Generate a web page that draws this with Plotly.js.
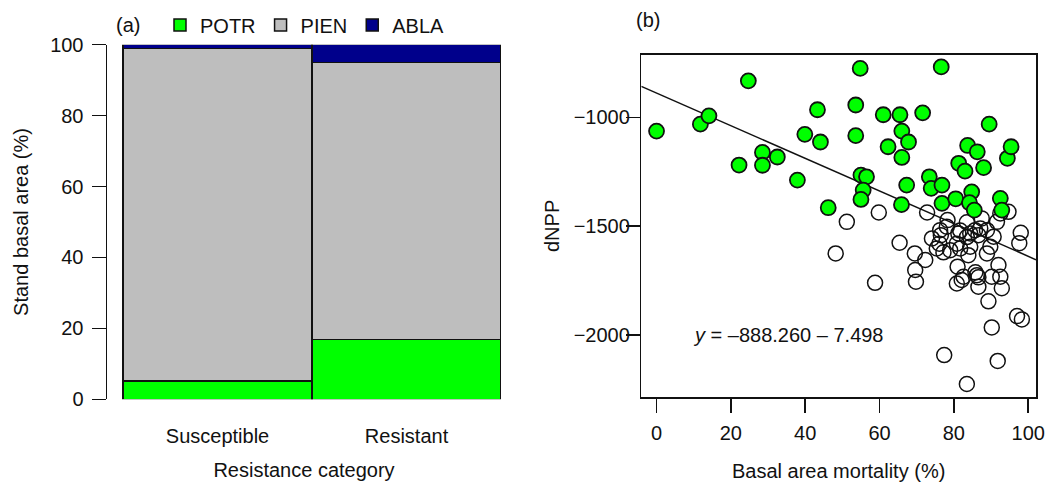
<!DOCTYPE html>
<html>
<head>
<meta charset="utf-8">
<script src="https://cdn.plot.ly/plotly-3.0.1.min.js"></script>
<style>html,body{margin:0;padding:0;background:#fff;}#chart{width:1045px;height:483px;}</style>
</head>
<body>
<div id="chart"></div>
<script>
// ---- Panel (a) data ----
const categories = ['Susceptible', 'Resistant'];
const potr = [5.2, 16.9];
const pien = [93.8, 78.1];
const abla = [1.0, 5.0];
const yTicksA = [0, 20, 40, 60, 80, 100];

// ---- Panel (b) data ----
const greenX = [0, 24.7, 11.8, 14.1, 22.2, 28.5, 28.5, 32.5, 37.9, 39.9, 43.3, 44.1, 46.2, 54.8, 53.6, 53.6, 55.0, 56.5, 55.6, 55.0, 61.0, 65.5, 66.0, 67.8, 62.3, 66.0, 71.6, 76.6, 67.3, 65.9, 73.4, 73.9, 76.8, 76.8, 80.5, 81.3, 83.0, 83.7, 86.3, 88.0, 89.5, 84.8, 84.2, 85.5, 92.5, 92.9, 94.4, 95.4];
const greenY = [-1063, -832, -1031, -993, -1219, -1161, -1220, -1182, -1288, -1078, -965, -1113, -1415, -775, -943, -1084, -1265, -1273, -1334, -1377, -988, -988, -1063, -1113, -1135, -1184, -979, -768, -1311, -1401, -1273, -1326, -1311, -1395, -1374, -1211, -1247, -1129, -1158, -1231, -1031, -1342, -1392, -1426, -1372, -1426, -1188, -1135];
const openX = [48.2, 51.2, 59.8, 58.8, 65.4, 69.5, 72.3, 69.6, 69.8, 72.8, 77.4, 83.5, 91.8, 90.2, 89.3, 97.0, 98.3, 98.0, 97.6, 77.2, 81.0, 80.8, 83.9, 85.8, 86.2, 86.6, 86.6, 82.6, 90.2, 92.0, 92.5, 92.9, 88.9, 78.3, 74.1, 76.5, 76.3, 76.1, 80.8, 81.7, 83.5, 85.7, 86.6, 88.9, 90.7, 91.6, 92.5, 94.7, 83.5, 87.5, 75.4, 79.0, 81.7, 84.4, 89.8, 87.1, 78.1, 81.2, 84.4, 82.1];
const openY = [-1625, -1480, -1437, -1760, -1576, -1625, -1655, -1701, -1755, -1437, -2092, -2225, -2119, -1965, -1845, -1913, -1928, -1530, -1578, -1620, -1686, -1763, -1633, -1712, -1725, -1735, -1778, -1732, -1732, -1678, -1732, -1785, -1625, -1472, -1556, -1541, -1518, -1580, -1580, -1520, -1482, -1518, -1541, -1518, -1548, -1480, -1441, -1434, -1550, -1464, -1602, -1610, -1602, -1594, -1594, -1510, -1502, -1533, -1533, -1747];
const xTicksB = [0, 20, 40, 60, 80, 100];
const yTicksB = [-2000, -1500, -1000];
const intercept = -888.260;
const slope = -7.498;

const W = 1045, H = 483;
const xRangeB = [-4.1, 102.1];
const yRangeB = [-2286, -712];
const font = {family: 'Liberation Sans, Arial, sans-serif', size: 20, color: '#111'};
const edge = {color: '#111', width: 1.5};

const traces = [
  {type: 'bar', name: 'POTR', x: categories, y: potr, marker: {color: '#00FF00', line: edge}, width: 1, xaxis: 'x', yaxis: 'y', hoverinfo: 'skip'},
  {type: 'bar', name: 'PIEN', x: categories, y: pien, marker: {color: '#BEBEBE', line: edge}, width: 1, xaxis: 'x', yaxis: 'y', hoverinfo: 'skip'},
  {type: 'bar', name: 'ABLA', x: categories, y: abla, marker: {color: '#00008B', line: edge}, width: 1, xaxis: 'x', yaxis: 'y', hoverinfo: 'skip'},
  {type: 'scatter', mode: 'lines', x: xRangeB, y: xRangeB.map(v => intercept + slope * v), line: {color: '#111', width: 1.5}, xaxis: 'x2', yaxis: 'y2', showlegend: false, hoverinfo: 'skip'},
  {type: 'scatter', mode: 'markers', x: openX, y: openY, marker: {symbol: 'circle-open', size: 15, color: '#111', line: {width: 1.5}}, xaxis: 'x2', yaxis: 'y2', showlegend: false},
  {type: 'scatter', mode: 'markers', x: greenX, y: greenY, marker: {symbol: 'circle', size: 15, color: '#00FF00', line: {color: '#111', width: 1.8}}, xaxis: 'x2', yaxis: 'y2', showlegend: false}
];

const layout = {
  width: W, height: H,
  margin: {l: 0, r: 0, t: 0, b: 0},
  paper_bgcolor: '#fff', plot_bgcolor: '#fff',
  font: font,
  barmode: 'stack',
  bargap: 0,
  showlegend: true,
  legend: {orientation: 'h', x: 160 / W, xanchor: 'left', y: (H - 25) / H, yanchor: 'middle', font: font, itemwidth: 30, itemgap: 0, traceorder: 'normal', bgcolor: 'rgba(0,0,0,0)'},
  xaxis: {domain: [107 / W, 501 / W], range: [-0.585, 1.5], type: 'category', showline: false, ticks: '', showgrid: false, zeroline: false,
    ticklabelstandoff: 23, fixedrange: true,
    title: {text: 'Resistance category', font: font, standoff: 16}},
  yaxis: {domain: [(H - 399.3) / H, (H - 44.7) / H], range: [0, 100], tickvals: yTicksA, showline: true, linecolor: '#111', linewidth: 1.5,
    ticks: 'outside', ticklen: 14, tickwidth: 1.5, tickcolor: '#111', showgrid: false, zeroline: false, ticklabelstandoff: 4,
    title: {text: 'Stand basal area (%)', font: font, standoff: 16}},
  xaxis2: {domain: [641.3 / W, 1036 / W], range: xRangeB, tickvals: xTicksB, showline: true, mirror: true, linecolor: '#111', linewidth: 1.5,
    ticks: 'outside', ticklen: 14, tickwidth: 1.5, tickcolor: '#111', showgrid: false, zeroline: false, ticklabelstandoff: 3, anchor: 'y2',
    title: {text: 'Basal area mortality (%)', font: font, standoff: 21}},
  yaxis2: {domain: [(H - 397.3) / H, (H - 54.7) / H], range: yRangeB, tickvals: yTicksB, showline: true, mirror: true, linecolor: '#111', linewidth: 1.5,
    ticks: 'outside', ticklen: 14, tickwidth: 1.5, tickcolor: '#111', showgrid: false, zeroline: false, ticklabelstandoff: -8, anchor: 'x2'},
  annotations: [
    {text: '(a)', xref: 'paper', yref: 'paper', x: 128 / W, y: (H - 25) / H, xanchor: 'center', yanchor: 'middle', showarrow: false, font: font},
    {text: '(b)', xref: 'paper', yref: 'paper', x: 648 / W, y: (H - 20) / H, xanchor: 'center', yanchor: 'middle', showarrow: false, font: font},
    {text: 'dNPP', xref: 'paper', yref: 'paper', x: 552 / W, y: (H - 226) / H, xanchor: 'center', yanchor: 'middle', textangle: -90, showarrow: false, font: font},
    {text: '<i>y</i> = \u2013888.260 \u2013 7.498', xref: 'x2', yref: 'y2', x: 9.4, y: -2000, xanchor: 'left', yanchor: 'middle', showarrow: false, font: font}
  ]
};

Plotly.newPlot('chart', traces, layout, {staticPlot: true, displayModeBar: false});
</script>
</body>
</html>
